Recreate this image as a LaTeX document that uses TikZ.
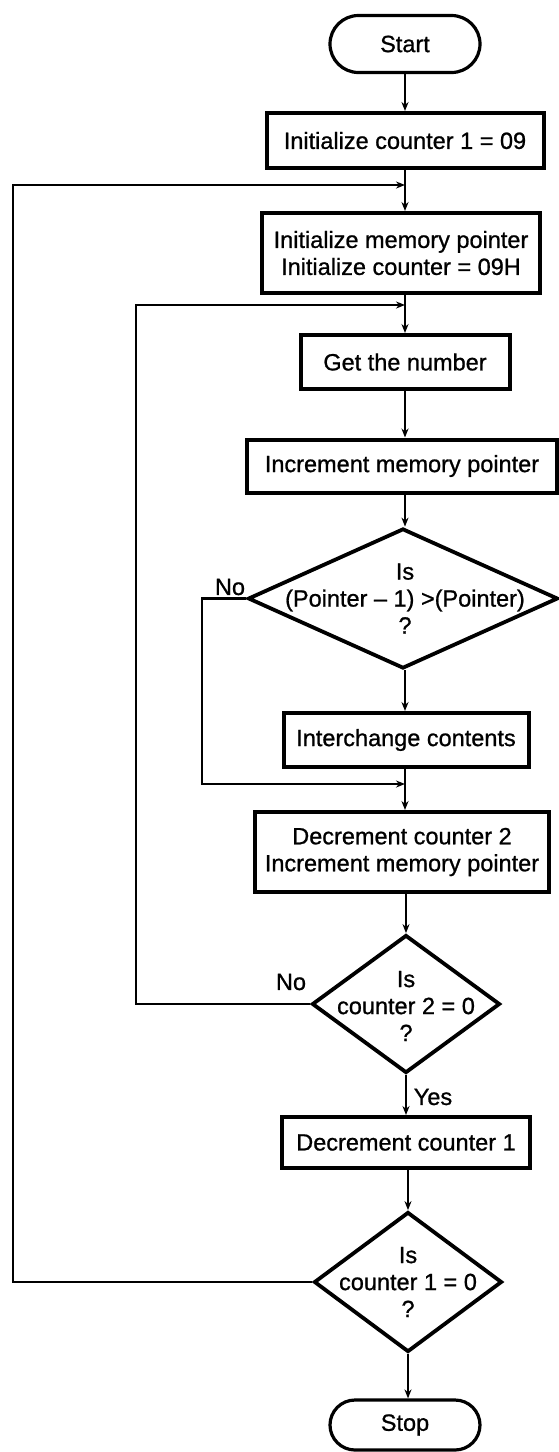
\documentclass[tikz,border=0pt]{standalone}
\usepackage{fontspec}
\setmainfont{Liberation Sans}
\newfontfamily\heavyfont{Liberation Sans}[FakeBold=0.9,Ligatures=TeX]
\usetikzlibrary{shapes.geometric,shapes.misc,arrows.meta}
\begin{document}
\begin{tikzpicture}[x=1pt,y=-1pt,
  txt/.style={font=\heavyfont\fontsize{23.5}{27}\selectfont},
  box/.style={draw, line width=4pt, rectangle, inner sep=0pt, align=center, txt},
  term/.style={draw, line width=3.2pt, rounded rectangle, inner sep=0pt, txt},
  dia/.style={draw, line width=3.8pt, diamond, inner sep=0pt},
  lbl/.style={align=center, inner sep=0pt, txt},
  flow/.style={line width=2.4pt},
  arr/.style={flow, -{Stealth[length=9pt,width=7pt]}}]
\useasboundingbox (0,0) rectangle (559,1452);

\node[term, minimum width=150, minimum height=57] (start) at (405,44) {Start};
\node[box, minimum width=277, minimum height=55] (b1) at (405,140.5) {Initialize counter 1 = 09};
\coordinate (j1) at (405,185);
\node[box, minimum width=278, minimum height=80] (b2) at (401,253) {Initialize memory pointer\\Initialize counter = 09H};
\coordinate (j2) at (405,305);
\node[box, minimum width=209, minimum height=54] (b3) at (405,362) {Get the number};
\node[box, minimum width=310, minimum height=53] (b4) at (402,466) {Increment memory pointer};
\node[dia, minimum width=310, minimum height=140] (d1) at (403,598.5) {};
\node[lbl] (d1t) at (405,598.5) {Is\\(Pointer – 1) >(Pointer)\\?};
\node[box, minimum width=245, minimum height=54] (b5) at (406,740) {Interchange contents};
\coordinate (j3) at (405,784);
\node[box, minimum width=294, minimum height=80] (b6) at (402,852) {Decrement counter 2\\Increment memory pointer};
\node[dia, minimum width=188, minimum height=138] (d2) at (406,1004) {};
\node[lbl] (d2t) at (406,1006) {Is\\counter 2 = 0\\?};
\node[box, minimum width=248, minimum height=51] (b7) at (406,1142.5) {Decrement counter 1};
\node[dia, minimum width=188, minimum height=140] (d3) at (408,1282) {};
\node[lbl] (d3t) at (408,1282) {Is\\counter 1 = 0\\?};
\node[term, minimum width=150, minimum height=50] (stop) at (405,1425) {Stop};

\node[lbl] (no1) at (230,587) {No};
\node[lbl] (no2) at (291,982) {No};
\node[lbl] (yes) at (433,1097) {Yes};

\draw[arr] (start) -- (b1);
\draw[flow] (b1) -- (j1);
\draw[arr] (j1) -- (b2.north -| j1);
\draw[flow] (b2.south -| j2) -- (j2);
\draw[arr] (j2) -- (b3);
\draw[arr] (b3.south -| j2) -- (b4.north -| j2);
\draw[arr] (b4.south -| j2) -- (d1.north -| j2);
\draw[arr] (d1.south -| j2) -- (b5.north -| j2);
\draw[flow] (b5.south -| j3) -- (j3);
\draw[arr] (j3) -- (b6.north -| j3);
\draw[arr] (b6.south -| d2) -- (d2.north);
\draw[arr] (d2.south) -- (b7.north -| d2);
\draw[arr] (b7.south -| d3) -- (d3.north);
\draw[arr] (d3.south) -- (stop.north -| d3);

\draw[arr] (d1.west) -- (202,598.5) -- (202,784) -- (j3);
\draw[arr] (d2.west) -- (136,1004) -- (136,305) -- (j2);
\draw[arr] (d3.west) -- (13,1282) -- (13,185) -- (j1);
\end{tikzpicture}
\end{document}
